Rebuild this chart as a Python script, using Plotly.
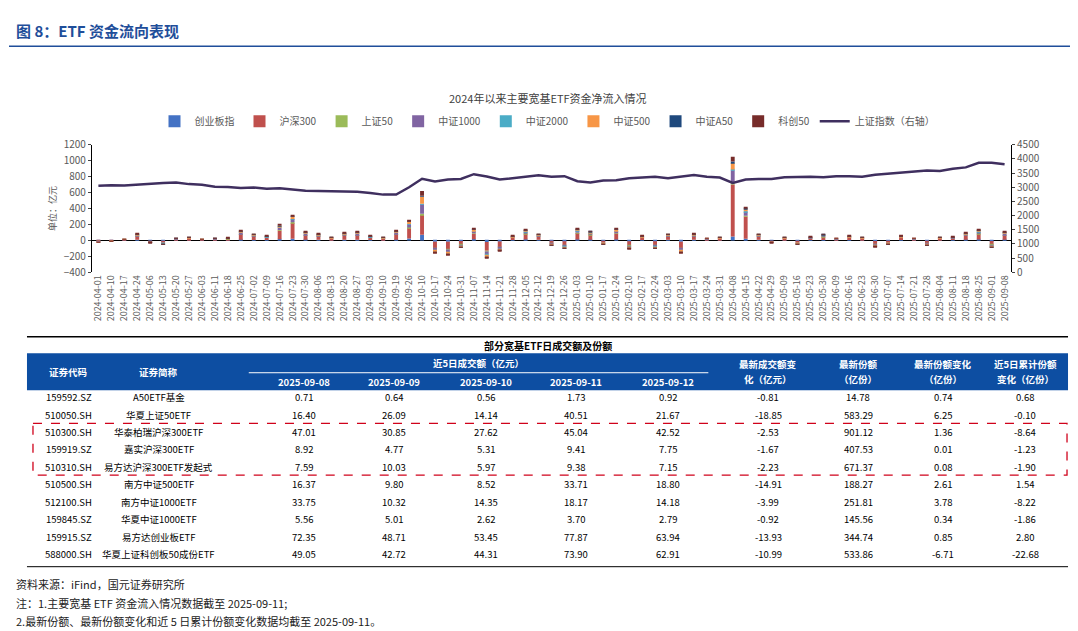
import plotly.graph_objects as go

W, H = 1078, 631
dates = ["2024-04-01","2024-04-10","2024-04-17","2024-04-24","2024-05-06","2024-05-13","2024-05-20","2024-05-27",
"2024-06-03","2024-06-11","2024-06-18","2024-06-25","2024-07-02","2024-07-09","2024-07-16","2024-07-23","2024-07-30",
"2024-08-06","2024-08-13","2024-08-20","2024-08-27","2024-09-03","2024-09-10","2024-09-19","2024-09-26","2024-10-10",
"2024-10-17","2024-10-24","2024-10-31","2024-11-07","2024-11-14","2024-11-21","2024-11-28","2024-12-05","2024-12-12",
"2024-12-19","2024-12-26","2025-01-03","2025-01-10","2025-01-17","2025-01-24","2025-02-10","2025-02-17","2025-02-24",
"2025-03-03","2025-03-10","2025-03-17","2025-03-24","2025-03-31","2025-04-08","2025-04-15","2025-04-22","2025-04-29",
"2025-05-09","2025-05-16","2025-05-23","2025-05-30","2025-06-09","2025-06-16","2025-06-23","2025-06-30","2025-07-07",
"2025-07-14","2025-07-21","2025-07-28","2025-08-04","2025-08-11","2025-08-18","2025-08-25","2025-09-01","2025-09-08"]

hs300 = [-10,-8,10,45,-15,-25,15,20,10,15,18,70,45,30,110,200,55,45,20,55,60,30,20,70,130,250,-80,-95,-45,70,-110,-70,30,70,40,-30,-50,80,60,-25,75,-55,30,-50,40,-80,45,15,20,650,280,40,-15,20,-25,25,40,15,30,20,-40,-25,30,15,-30,20,25,50,70,-45,55]
zz1000 = [-3,-2,3,15,-5,-8,5,6,3,5,5,20,12,10,30,40,18,15,6,15,18,10,6,20,40,120,-25,-30,-15,25,-35,-22,10,22,12,-10,-15,25,18,-8,25,-18,10,-15,12,-25,15,5,6,150,50,12,-5,6,-8,8,12,5,10,6,-12,-8,10,5,-10,6,8,15,22,-15,18]
zz500 = [-2,-2,2,10,-3,-5,3,5,2,3,4,15,8,6,20,30,12,10,4,10,12,6,4,14,30,90,-20,-25,-10,20,-30,-18,8,15,10,-8,-12,15,14,-6,18,-14,8,-12,10,-20,10,4,5,80,30,10,-4,5,-6,6,10,4,8,5,-10,-6,8,4,-8,5,6,12,18,-10,12]
cyb = [-2,-1,2,8,-3,-5,3,3,2,3,3,10,6,5,15,20,10,8,4,8,8,5,4,10,25,70,-15,-15,-8,15,-20,-12,5,12,8,-5,-10,12,10,-4,12,-10,5,-10,8,-15,8,3,4,50,20,8,-3,4,-4,4,6,3,5,4,-8,-5,5,3,-5,4,4,10,12,-8,10]
kc50 = [-2,-1,2,6,-2,-4,2,3,2,2,3,8,5,5,15,15,8,7,3,7,7,5,3,8,20,60,-12,-15,-7,12,-15,-12,4,12,6,-4,-8,10,10,-4,12,-8,4,-8,6,-12,7,2,3,60,20,6,-2,3,-4,4,6,2,4,3,-6,-4,4,2,-4,3,4,8,10,-7,8]
sz50 = [-1,-1,1,3,-1,-2,1,2,1,1,1,4,2,2,5,8,3,3,2,3,3,2,1,4,8,15,-4,-5,-3,4,-10,-3,2,5,2,-2,-3,4,4,-2,4,-3,2,-3,2,-4,3,1,1,30,10,2,-1,1,-2,2,3,1,2,1,-2,-1,2,1,-2,1,2,3,4,-3,4]
a50 = [0,0,0,2,-1,-1,1,1,0,1,1,2,1,1,3,5,2,1,1,1,1,1,1,2,4,10,-2,-3,-1,2,-5,-2,1,3,1,-1,-1,2,2,-1,2,-1,1,-1,1,-2,1,0,1,20,5,1,0,1,-1,1,2,0,1,1,-1,-1,1,0,-1,1,1,1,2,-1,2]
zz2000 = [0,0,0,1,0,-1,0,0,0,0,0,1,1,1,2,2,2,1,0,1,1,1,1,2,3,5,-2,-2,-1,2,-5,-1,0,1,1,0,-1,2,2,0,2,-1,0,-1,1,-2,1,0,0,10,5,1,0,0,0,0,1,0,0,0,-1,0,0,0,0,0,0,1,2,-1,1]
sh_index = [3050,3070,3060,3090,3140,3150,3170,3110,3090,3020,3010,2970,2990,2950,2960,2920,2880,2870,2860,2860,2840,2800,2740,2740,3000,3300,3200,3270,3290,3460,3380,3270,3320,3370,3420,3370,3390,3210,3170,3240,3250,3320,3350,3370,3320,3370,3430,3370,3340,3150,3270,3290,3290,3350,3370,3370,3350,3390,3390,3370,3440,3480,3500,3560,3590,3570,3650,3700,3860,3860,3810]

series = [("创业板指", cyb, "#4472C4"), ("沪深300", hs300, "#C0504D"), ("上证50", sz50, "#9BBB59"),
          ("中证1000", zz1000, "#8064A2"), ("中证2000", zz2000, "#4BACC6"), ("中证500", zz500, "#F79646"),
          ("中证A50", a50, "#1F497D"), ("科创50", kc50, "#772C2A")]

codes = ["159592.SZ","510050.SH","510300.SH","159919.SZ","510310.SH","510500.SH","512100.SH","159845.SZ","159915.SZ","588000.SH"]
names = ["A50ETF基金","华夏上证50ETF","华泰柏瑞沪深300ETF","嘉实沪深300ETF","易方达沪深300ETF发起式","南方中证500ETF",
         "南方中证1000ETF","华夏中证1000ETF","易方达创业板ETF","华夏上证科创板50成份ETF"]
d0908 = ["0.71","16.40","47.01","8.92","7.59","16.37","33.75","5.56","72.35","49.05"]
d0909 = ["0.64","26.09","30.85","4.77","10.03","9.80","10.32","5.01","48.71","42.72"]
d0910 = ["0.56","14.14","27.62","5.31","5.97","8.52","14.35","2.62","53.45","44.31"]
d0911 = ["1.73","40.51","45.04","9.41","9.38","33.71","18.17","3.70","77.87","73.90"]
d0912 = ["0.92","21.67","42.52","7.75","7.15","18.80","14.18","2.79","63.94","62.91"]
amt_chg = ["-0.81","-18.85","-2.53","-1.67","-2.23","-14.91","-3.99","-0.92","-13.93","-10.99"]
shares = ["14.78","583.29","901.12","407.53","671.37","188.27","251.81","145.56","344.74","533.86"]
share_chg = ["0.74","6.25","1.36","0.01","0.08","2.61","3.78","0.34","0.85","-6.71"]
share_5d = ["0.68","-0.10","-8.64","-1.23","-1.90","1.54","-8.22","-1.86","2.80","-22.68"]

def px(x): return x / W
def py(y): return 1 - y / H

fig = go.Figure()
for name, vals, col in series:
    fig.add_trace(go.Bar(x=dates, y=vals, name=name, marker_color=col, marker_line_width=0))
fig.add_trace(go.Scatter(x=dates, y=sh_index, name="上证指数（右轴）", yaxis="y2", mode="lines",
                         line=dict(color="#3F2F5F", width=2.5)))

font = "Noto Sans CJK SC"
fig.update_layout(
    width=W, height=H, margin=dict(l=0, r=0, t=0, b=0), paper_bgcolor="white", plot_bgcolor="white",
    barmode="relative", bargap=0.7, font=dict(family=font, size=10, color="#595959"),
    showlegend=True,
    legend=dict(orientation="h", x=0.5, xanchor="center", y=py(107), yanchor="middle",
                font=dict(size=10, color="#595959"), traceorder="normal"),
    xaxis=dict(domain=[px(83), px(1003)], type="category", tickangle=-90, tickfont=dict(size=9, color="#595959"),
               showline=False, ticks="", anchor="y"),
    yaxis=dict(domain=[py(262), py(131)], range=[-400, 1200], dtick=200, showgrid=False, zeroline=True,
               zerolinecolor="black", zerolinewidth=1, showline=True, linecolor="black", ticks="outside",
               ticklen=3, tickfont=dict(size=10, color="#595959"),
               title=dict(text="单位：亿元", font=dict(size=9, color="#595959"), standoff=5)),
    yaxis2=dict(overlaying="y", side="right", range=[0, 4500], dtick=500, showgrid=False, showline=True,
                linecolor="black", ticks="outside", ticklen=3, tickfont=dict(size=10, color="#595959")),
)

shapes = []
ann = []
def text(x, y, s, size=10, color="black", xanchor="center", bold=False, fam=font):
    ann.append(dict(x=px(x), y=py(y), xref="paper", yref="paper", text=("<b>%s</b>" % s) if bold else s,
                    showarrow=False, xanchor=xanchor, yanchor="middle",
                    font=dict(size=size, color=color, family=fam)))
def line(x0, y0, x1, y1, color="black", width=1, dash="solid"):
    shapes.append(dict(type="line", xref="paper", yref="paper", x0=px(x0), y0=py(y0), x1=px(x1), y1=py(y1),
                       line=dict(color=color, width=width, dash=dash)))

text(5, 14, "图 8：ETF 资金流向表现", size=15, color="#1F4E9A", xanchor="left", bold=True)
line(0, 30, 1078, 30, color="#1F4E9A", width=1.5)
text(540, 83, "2024年以来主要宽基ETF资金净流入情况", size=11, color="#404040")

line(18, 328, 1060, 328, width=1.5)
text(540, 337, "部分宽基ETF日成交额及份额", size=10, bold=True)
shapes.append(dict(type="rect", xref="paper", yref="paper", x0=px(18), x1=px(1060), y0=py(345), y1=py(383),
                   fillcolor="#0D4EA2", line=dict(width=0)))
line(240, 365, 700, 365, color="white", width=1)
colx = [60, 150, 295, 385, 477, 568, 660, 760, 850, 935, 1017]
hw = dict(size=9.5, color="white", bold=True)
text(colx[0], 364, "证券代码", **hw)
text(colx[1], 364, "证券简称", **hw)
text(470, 355, "近5日成交额（亿元）", **hw)
for i, d in enumerate(["2025-09-08", "2025-09-09", "2025-09-10", "2025-09-11", "2025-09-12"]):
    text(colx[2 + i], 374, d, **hw)
text(colx[7], 356, "最新成交额变", **hw); text(colx[7], 371, "化（亿元）", **hw)
text(colx[8], 356, "最新份额", **hw); text(colx[8], 371, "（亿份）", **hw)
text(colx[9], 356, "最新份额变化", **hw); text(colx[9], 371, "（亿份）", **hw)
text(colx[10], 356, "近5日累计份额", **hw); text(colx[10], 371, "变化（亿份）", **hw)

cols = [codes, names, d0908, d0909, d0910, d0911, d0912, amt_chg, shares, share_chg, share_5d]
for r in range(len(codes)):
    y = 390 + r * 17.9
    for c, col in enumerate(cols):
        text(colx[c], y, col[r], size=9.5, color="black")
shapes.append(dict(type="rect", xref="paper", yref="paper", x0=px(24), x1=px(1059), y0=py(417), y1=py(470),
                   line=dict(color="#D0021B", width=1.3, dash="dash")))
line(18, 564, 1060, 564, width=1)

text(5, 582, "资料来源：iFind，国元证券研究所", size=11, color="#222", xanchor="left")
text(5, 601, "注：1.主要宽基 ETF 资金流入情况数据截至 2025-09-11;", size=11, color="#222", xanchor="left")
text(5, 620, "2.最新份额、最新份额变化和近 5 日累计份额变化数据均截至 2025-09-11。", size=11, color="#222", xanchor="left")

fig.update_layout(shapes=shapes, annotations=ann)
fig.write_html("out.html")
